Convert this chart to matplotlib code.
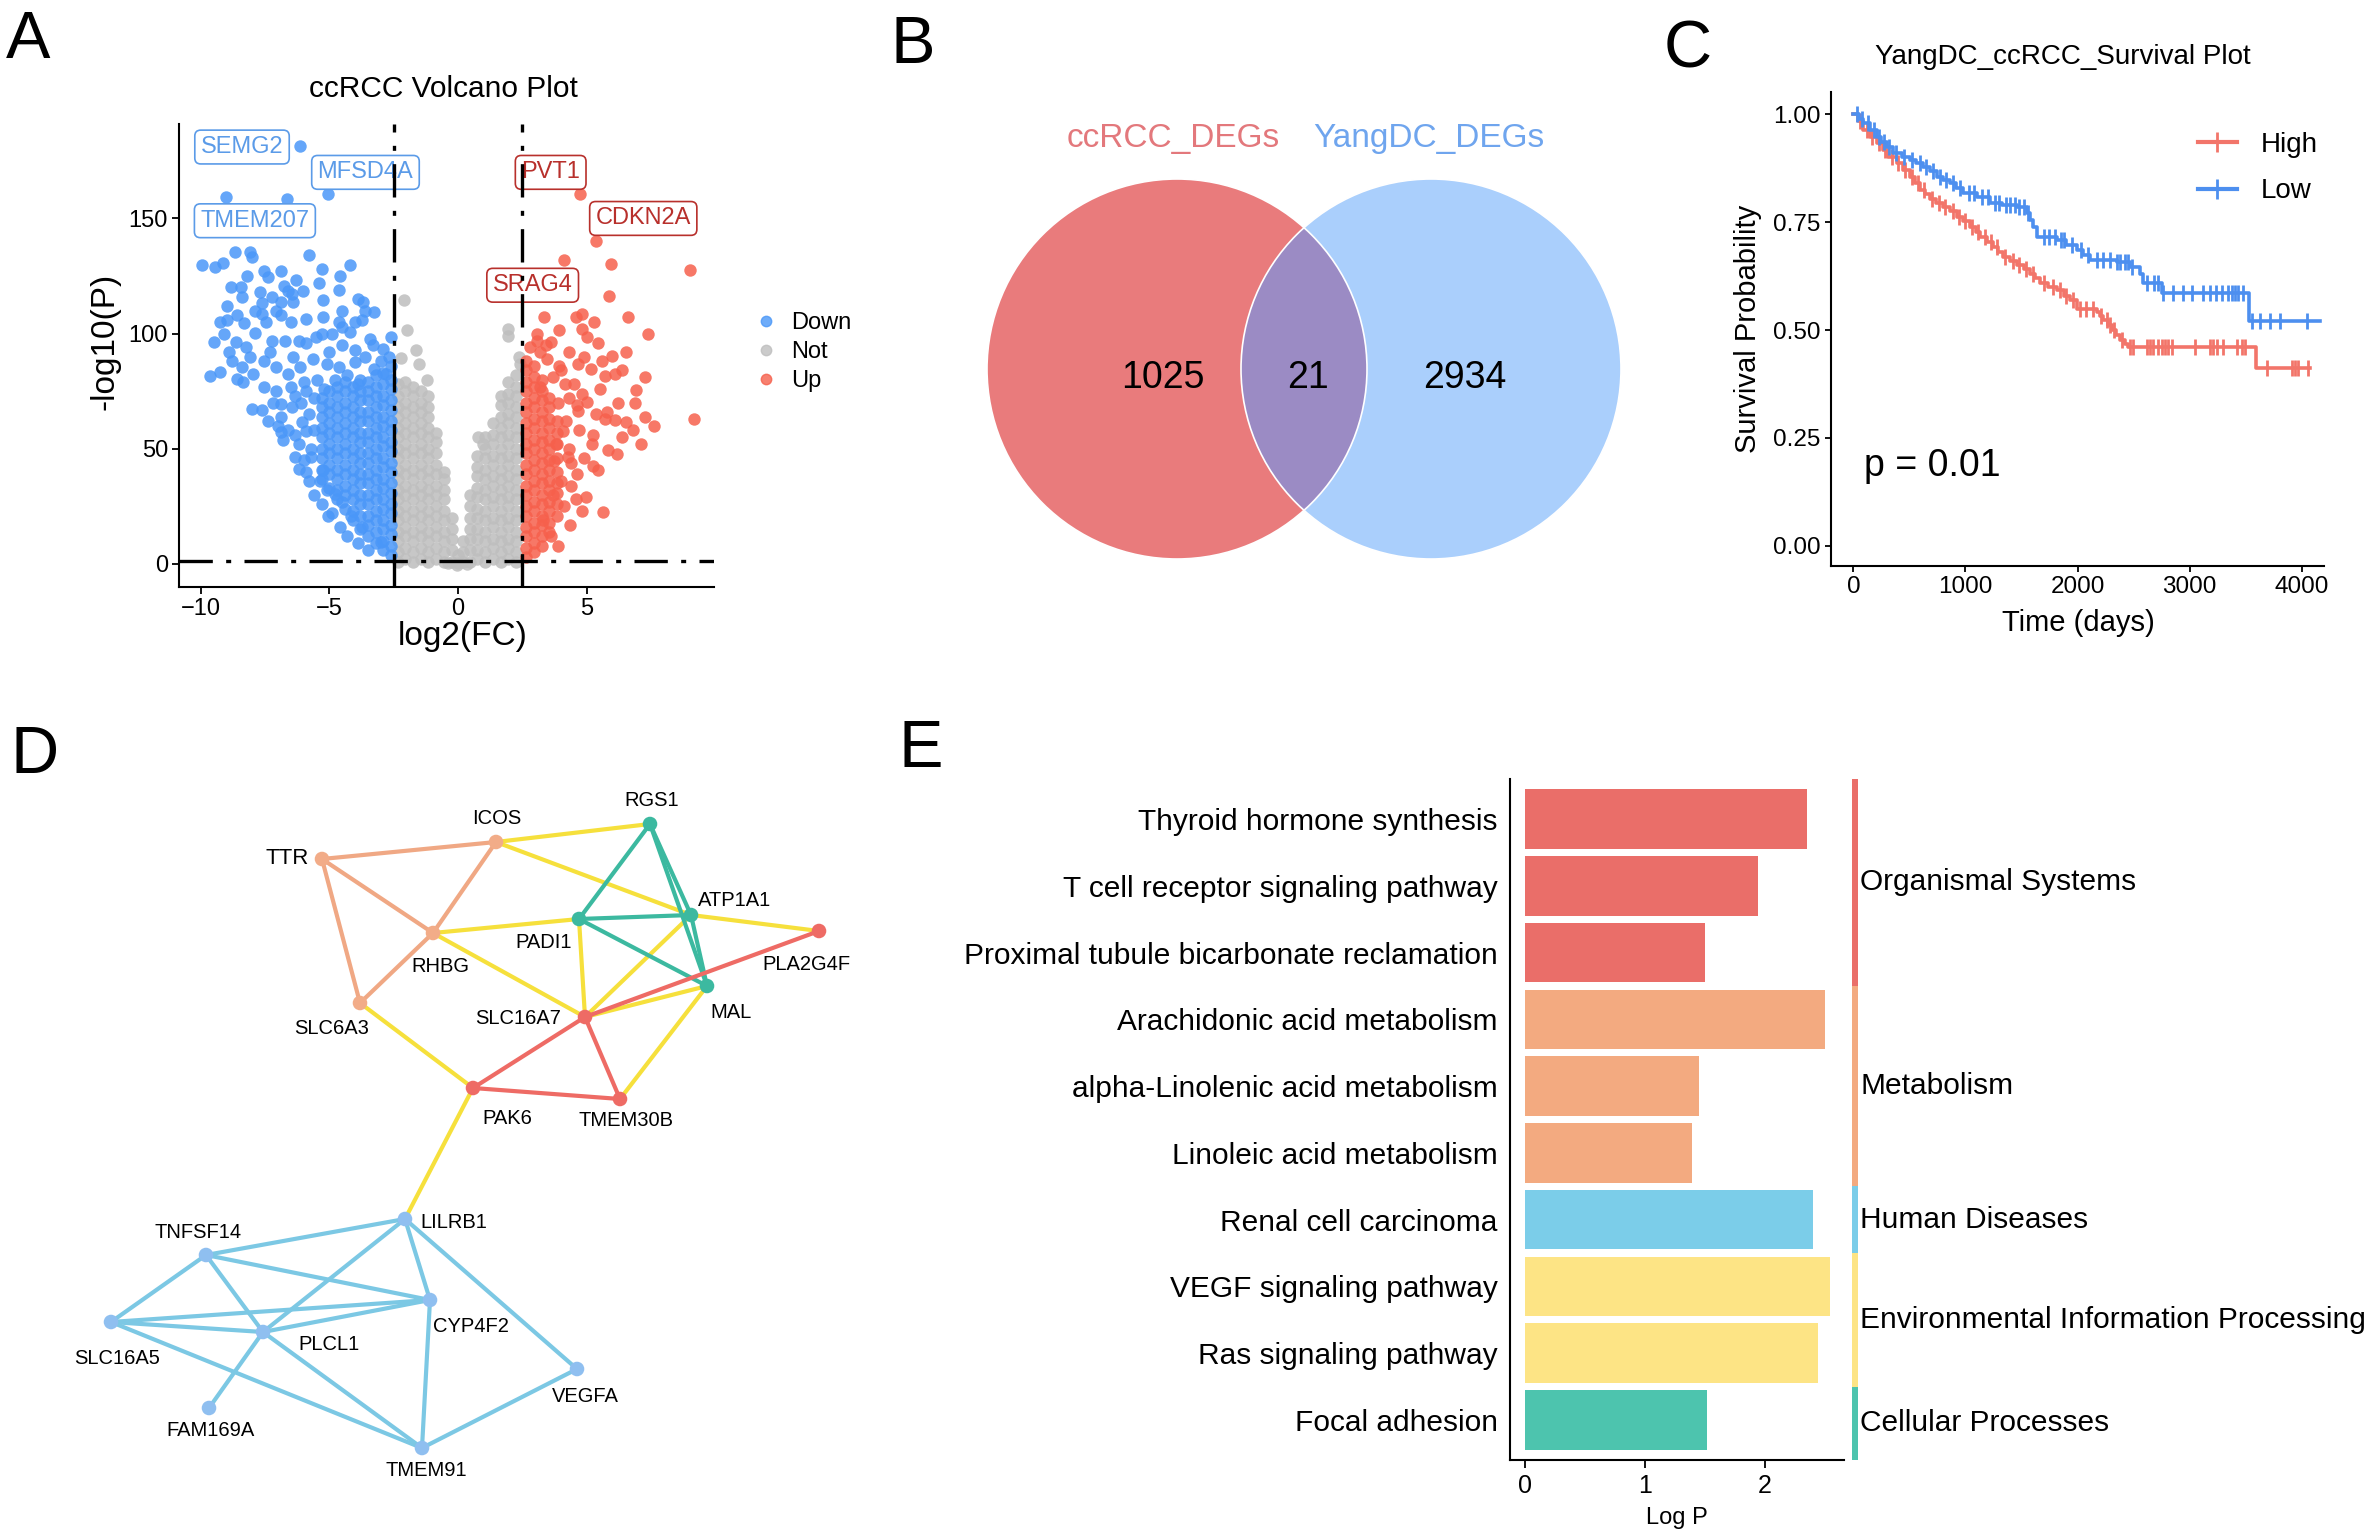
import numpy as np
import matplotlib
matplotlib.use("Agg")
import matplotlib.pyplot as plt
from matplotlib.patches import Circle
from matplotlib.lines import Line2D

plt.rcParams['font.family'] = ['Liberation Sans', 'DejaVu Sans']

# ---------------- A: volcano data ----------------
blue_pts = [(-6.13, 181.4), (-9.01, 159.5), (-6.67, 158.4), (-5.04, 160.7), (-8.68, 135.6), (-8.10, 135.3),
            (-8.00, 133.2), (-5.79, 134.2), (-9.96, 129.8), (-9.46, 128.8), (-9.12, 130.6), (-4.21, 129.8),
            (-7.56, 127.4), (-7.38, 124.5), (-6.29, 123.3), (-8.81, 120.2), (-8.44, 120.4), (-8.40, 116.1),
            (-6.78, 120.6), (-6.60, 118.7), (-6.44, 117.3), (-6.03, 118.3), (-5.42, 121.9), (-4.63, 119.0),
            (-8.98, 112.2), (-7.62, 113.2), (-7.24, 115.8), (-6.88, 113.6), (-6.40, 113.6), (-5.24, 114.7),
            (-3.68, 113.6), (-3.27, 109.3), (-3.61, 110.0), (-9.26, 104.9), (-8.98, 106.1), (-8.33, 104.5),
            (-7.62, 108.6), (-7.45, 104.9), (-7.08, 110.0), (-6.50, 104.9), (-5.92, 106.4), (-5.24, 107.1),
            (-4.63, 104.9), (-4.02, 104.9), (-3.75, 106.0), (-9.50, 96.3), (-8.64, 96.3), (-8.24, 94.1),
            (-7.90, 100.2), (-7.22, 97.0), (-6.74, 97.0), (-6.20, 97.0), (-5.52, 98.4), (-4.90, 99.9),
            (-4.22, 100.6), (-3.41, 97.7), (-2.93, 93.4), (-2.59, 98.4), (-9.66, 81.8), (-9.26, 83.3),
            (-8.78, 88.3), (-8.40, 85.4), (-7.96, 82.5), (-7.56, 88.3), (-7.08, 85.4), (-6.60, 82.5),
            (-6.13, 85.4), (-5.65, 89.0), (-5.11, 86.9), (-4.63, 85.4), (-4.02, 87.6), (-3.27, 84.7),
            (-2.80, 82.5), (-8.58, 80.4), (-8.37, 78.9), (-7.56, 76.7), (-7.08, 75.3), (-6.33, 73.1),
            (-5.92, 75.3), (-8.03, 67.3), (-7.62, 66.9), (-6.88, 69.5), (-6.47, 68.1), (-6.06, 61.5),
            (-5.92, 57.9), (-6.88, 57.2), (-6.33, 55.8), (-6.81, 53.6), (-6.33, 46.4), (-6.20, 41.3),
            (-5.72, 46.4), (-5.24, 40.6), (-5.79, 36.2), (-5.38, 36.2), (-5.11, 31.9), (-4.77, 30.4),
            (-4.50, 26.8), (-5.04, 21.0), (-4.16, 21.0), (-3.75, 16.0), (-3.00, 9.5),
            (-5.0, 92), (-4.5, 95), (-4.0, 93), (-3.6, 90), (-3.3, 95), (-3.0, 88), (-2.7, 90), (-4.8, 80),
            (-4.3, 82), (-3.9, 78), (-5.5, 80), (-5.2, 76), (-6.0, 79), (-5.6, 72), (-6.5, 77), (-7.2, 70),
            (-6.9, 64), (-5.8, 65), (-6.1, 70), (-5.7, 50), (-6.0, 45), (-5.6, 58), (-7.4, 62), (-7.0, 60),
            (-6.6, 58), (-6.2, 52), (-5.9, 40), (-5.6, 30), (-5.3, 26), (-4.9, 22), (-4.6, 16), (-4.3, 12),
            (-3.9, 9), (-3.5, 6), (-4.5, 103), (-5.3, 100), (-6.9, 108), (-7.9, 110), (-8.6, 108), (-9.1, 100),
            (-8.1, 90), (-8.9, 92), (-7.3, 92), (-6.4, 90), (-5.9, 96), (-4.5, 110), (-3.9, 115), (-4.6, 125),
            (-5.3, 128), (-6.9, 127), (-7.7, 118), (-8.2, 125)]

blue_col_x = [-5.3, -5.0, -4.7, -4.4, -4.1, -3.8, -3.5, -3.2, -2.9, -2.6]
blue_col_y = [[37, 41, 46, 50, 55, 59, 64, 68, 72],
              [33, 39, 43, 48, 52, 57, 61, 66, 70, 75],
              [28, 32, 37, 41, 46, 50, 55, 59, 64, 68, 73, 77],
              [24, 30, 34, 39, 43, 48, 52, 57, 61, 66, 70, 75, 79],
              [19, 23, 28, 32, 37, 41, 46, 50, 55, 59, 64, 68, 73, 77],
              [15, 21, 26, 30, 35, 39, 44, 48, 53, 57, 62, 66, 71, 75, 80],
              [12, 17, 21, 26, 30, 35, 39, 44, 48, 53, 57, 62, 66, 71, 75, 79],
              [9, 14, 19, 23, 28, 32, 37, 41, 46, 50, 55, 59, 64, 68, 73, 77, 82],
              [6, 10, 15, 19, 24, 28, 33, 37, 42, 46, 51, 55, 60, 64, 69, 73, 78, 83],
              [4, 8, 13, 17, 22, 26, 31, 35, 40, 44, 49, 53, 58, 62, 67, 71, 76, 80, 86]]

grey_pts = [(-2.12, 114.4), (-1.98, 101.6), (-1.64, 92.7), (-2.2, 89.5), (-1.5, 86.9), (-1.2, 80),
            (1.93, 102), (1.96, 99), (2.37, 89.8), (0.78, 55), (0.97, 52), (2.4, 87), (-0.05, -0.5),
            (-0.4, 0.3), (0.35, 0.2)]
grey_col_x = [-2.35, -2.05, -1.75, -1.45, -1.15, -0.85, -0.55, -0.25, 0.0, 0.2, 0.45, 0.75, 1.05, 1.35,
              1.65, 1.95, 2.25]
grey_col_y = [[1, 5, 10, 14, 19, 23, 28, 32, 37, 41, 46, 50, 55, 59, 64, 68, 73, 78],
              [2, 7, 12, 16, 21, 25, 30, 34, 39, 43, 48, 52, 57, 61, 66, 70, 75, 79],
              [1, 5, 10, 14, 19, 23, 28, 32, 37, 41, 46, 50, 55, 59, 64, 68, 73, 77],
              [2, 7, 12, 16, 21, 25, 30, 34, 39, 43, 48, 52, 57, 61, 66, 70, 75],
              [1, 5, 10, 14, 19, 23, 28, 32, 37, 41, 46, 50, 55, 59, 64, 68, 73],
              [2, 7, 12, 16, 21, 25, 30, 34, 39, 43, 48, 53, 57],
              [1, 5, 10, 14, 19, 23, 28, 32, 37, 40],
              [1, 6, 11, 15, 20],
              [0.5, 4],
              [1, 5, 10],
              [1, 6, 11, 15, 20, 25, 30],
              [2, 6, 11, 15, 20, 24, 29, 33, 38, 42, 47],
              [1, 5, 10, 14, 19, 23, 28, 32, 37, 41, 46, 50, 55],
              [2, 7, 11, 16, 20, 25, 29, 34, 38, 43, 47, 52, 56, 61],
              [1, 5, 10, 14, 19, 23, 28, 32, 37, 41, 46, 50, 55, 59, 64, 69, 73],
              [2, 7, 11, 16, 20, 25, 29, 34, 38, 43, 47, 52, 56, 61, 65, 70, 74, 79],
              [1, 5, 10, 14, 19, 23, 28, 32, 37, 41, 46, 50, 55, 59, 64, 68, 73, 77, 82]]

red_pts = [(4.75, 160.4), (5.36, 140.1), (4.10, 132.0), (5.95, 130.3), (9.01, 127.7), (5.88, 116.5),
           (3.36, 107.1), (4.59, 107.4), (4.82, 108.6), (5.27, 105.0), (6.59, 107.1), (7.40, 99.9),
           (3.05, 99.9), (3.94, 101.6), (4.82, 102.1), (3.08, 97.0), (3.60, 96.3), (5.02, 98.4),
           (5.43, 95.8), (6.52, 91.9), (5.98, 90.5), (2.78, 94.1), (3.46, 89.0), (3.94, 86.1),
           (4.68, 86.9), (5.16, 84.7), (5.70, 81.8), (6.11, 82.5), (6.38, 84.0), (7.27, 81.1),
           (3.19, 76.7), (4.14, 78.2), (4.82, 73.8), (5.50, 76.0), (6.93, 75.6), (6.86, 69.8),
           (4.62, 68.8), (5.02, 70.2), (5.36, 65.2), (5.70, 63.0), (6.11, 62.3), (6.52, 61.8),
           (7.27, 63.7), (7.61, 60.1), (9.17, 63.0), (4.68, 66.6), (4.07, 57.9), (5.23, 55.8),
           (6.38, 55.0), (7.13, 51.9), (5.84, 49.3), (6.18, 47.8), (3.73, 44.9), (4.28, 46.4),
           (4.62, 39.1), (5.23, 42.7), (5.43, 40.6), (4.00, 36.2), (4.96, 29.0), (4.82, 23.2),
           (5.64, 22.5), (4.34, 16.7), (3.32, 18.9),
           (3.9, 70), (4.2, 62), (3.8, 52), (4.3, 50), (3.7, 30), (4.1, 25), (3.6, 12), (3.9, 8),
           (4.4, 44), (4.0, 84), (4.3, 92), (3.7, 81), (4.5, 78), (4.9, 90), (5.6, 88), (4.3, 72),
           (4.7, 58), (5.2, 52), (4.9, 46), (4.4, 34), (4.6, 28), (5.8, 66), (6.2, 70), (6.8, 58),
           (3.4, 95), (3.2, 92)]
red_col_x = [2.65, 2.95, 3.25, 3.55, 3.85]
red_col_y = [[3, 7, 12, 16, 21, 25, 30, 34, 39, 43, 48, 52, 57, 61, 66, 70, 75, 79, 84, 88],
             [5, 9, 14, 18, 23, 27, 32, 36, 41, 45, 50, 54, 59, 63, 68, 72, 77, 81, 86],
             [8, 12, 17, 21, 26, 30, 35, 39, 44, 48, 53, 57, 62, 66, 71, 75, 80],
             [14, 18, 23, 27, 32, 36, 41, 45, 50, 54, 59, 63, 68, 72],
             [21, 26, 31, 35, 40, 46, 52, 57, 62]]

gene_labels = ['SEMG2', 'MFSD4A', 'TMEM207', 'PVT1', 'CDKN2A', 'SRAG4']
gene_x = [-8.4, -3.6, -7.9, 3.6, 7.2, 2.9]
gene_y = [181, 170, 149, 170, 150, 121]
gene_dir = ['Down', 'Down', 'Down', 'Up', 'Up', 'Up']

# ---------------- B: venn ----------------
venn_counts = [1025, 21, 2934]
venn_sets = ['ccRCC_DEGs', 'YangDC_DEGs']

# ---------------- C: survival ----------------
high_t = [0, 40, 88, 150, 207, 260, 311, 385, 440, 504, 550, 594, 640, 683, 740, 802, 860, 921, 980, 1040,
          1090, 1129, 1190, 1248, 1290, 1338, 1400, 1457, 1520, 1576, 1620, 1665, 1740, 1814, 1880, 1933,
          1992, 2171, 2200, 2230, 2270, 2305, 2340, 2379, 2420, 2454, 3590, 4075]
high_s = [1.0, 0.985, 0.964, 0.948, 0.933, 0.918, 0.902, 0.887, 0.872, 0.856, 0.840, 0.825, 0.815, 0.805,
          0.795, 0.786, 0.775, 0.763, 0.752, 0.740, 0.728, 0.716, 0.705, 0.693, 0.682, 0.670, 0.660, 0.651,
          0.641, 0.631, 0.620, 0.608, 0.600, 0.593, 0.580, 0.570, 0.550, 0.542, 0.532, 0.523, 0.511, 0.500,
          0.488, 0.477, 0.468, 0.461, 0.411, 0.411]
high_cens = [60, 120, 170, 230, 280, 340, 400, 460, 520, 580, 630, 700, 760, 820, 890, 940, 1000, 1060,
             1110, 1170, 1230, 1280, 1350, 1420, 1480, 1540, 1600, 1700, 1780, 1840, 1900, 1960, 2020, 2080,
             2140, 2210, 2260, 2290, 2330, 2400, 2470, 2498, 2617, 2647, 2677, 2721, 2751, 2781, 2811, 2840,
             3049, 3183, 3212, 3242, 3302, 3421, 3465, 3495, 3689, 3912, 3942, 3971, 4061]
low_t = [0, 50, 88, 150, 207, 250, 296, 355, 430, 504, 560, 623, 680, 742, 800, 861, 920, 980, 1099, 1218,
         1330, 1457, 1546, 1576, 1600, 1635, 1814, 1900, 1992, 2050, 2111, 2349, 2468, 2558, 2587, 2751,
         3530, 4165]
low_s = [1.0, 0.990, 0.979, 0.963, 0.948, 0.937, 0.925, 0.910, 0.902, 0.894, 0.887, 0.879, 0.868, 0.856,
         0.848, 0.840, 0.829, 0.817, 0.809, 0.794, 0.790, 0.786, 0.771, 0.755, 0.740, 0.716, 0.709, 0.698,
         0.686, 0.674, 0.662, 0.658, 0.647, 0.631, 0.608, 0.585, 0.522, 0.522]
low_cens = [30, 80, 130, 180, 230, 270, 320, 380, 450, 520, 590, 650, 710, 770, 830, 890, 950, 1030, 1080,
            1150, 1200, 1260, 1300, 1360, 1400, 1440, 1480, 1520, 1560, 1700, 1750, 1800, 1850, 1880, 1950,
            2030, 2090, 2170, 2230, 2290, 2349, 2380, 2420, 2450, 2483, 2620, 2680, 2721, 2766, 2855, 2945,
            3019, 3123, 3183, 3240, 3290, 3340, 3380, 3410, 3436, 3480, 3555, 3629, 3718, 3808, 4046]

# ---------------- D: network ----------------
node_names = ['RGS1', 'ICOS', 'TTR', 'ATP1A1', 'PADI1', 'PLA2G4F', 'RHBG', 'MAL', 'SLC6A3', 'SLC16A7',
              'PAK6', 'TMEM30B', 'LILRB1', 'TNFSF14', 'CYP4F2', 'SLC16A5', 'PLCL1', 'VEGFA', 'FAM169A',
              'TMEM91']
node_x = [650, 496, 322, 691, 579, 819, 433, 707, 360, 585, 473, 620, 405, 206, 430, 111, 263, 577, 209, 422]
node_y = [824, 842, 859, 915, 919, 931, 933, 986, 1003, 1017, 1088, 1099, 1219, 1255, 1300, 1322, 1332,
          1369, 1408, 1448]
node_group = ['teal', 'orange', 'orange', 'teal', 'teal', 'red', 'orange', 'teal', 'orange', 'red',
              'red', 'red', 'blue', 'blue', 'blue', 'blue', 'blue', 'blue', 'blue', 'blue']
label_x = [652, 497, 287, 735, 544, 806, 440, 731, 332, 518, 507, 626, 454, 198, 471, 117, 329, 585, 211, 426]
label_y = [801, 819, 859, 900, 943, 964, 967, 1013, 1028, 1018, 1118, 1121, 1222, 1233, 1326, 1358, 1345,
           1397, 1431, 1470]
edges = [('TTR', 'ICOS', 'orange'), ('TTR', 'RHBG', 'orange'), ('TTR', 'SLC6A3', 'orange'),
         ('ICOS', 'RHBG', 'orange'), ('RHBG', 'SLC6A3', 'orange'),
         ('ICOS', 'RGS1', 'yellow'), ('ICOS', 'ATP1A1', 'yellow'), ('RHBG', 'PADI1', 'yellow'),
         ('RHBG', 'SLC16A7', 'yellow'), ('ATP1A1', 'PLA2G4F', 'yellow'), ('SLC16A7', 'ATP1A1', 'yellow'),
         ('SLC16A7', 'MAL', 'yellow'), ('PADI1', 'SLC16A7', 'yellow'), ('SLC6A3', 'PAK6', 'yellow'),
         ('MAL', 'TMEM30B', 'yellow'), ('PAK6', 'LILRB1', 'yellow'),
         ('RGS1', 'PADI1', 'teal'), ('RGS1', 'ATP1A1', 'teal'), ('RGS1', 'MAL', 'teal'),
         ('PADI1', 'ATP1A1', 'teal'), ('PADI1', 'MAL', 'teal'), ('ATP1A1', 'MAL', 'teal'),
         ('SLC16A7', 'PLA2G4F', 'red'), ('SLC16A7', 'PAK6', 'red'), ('SLC16A7', 'TMEM30B', 'red'),
         ('PAK6', 'TMEM30B', 'red'),
         ('LILRB1', 'TNFSF14', 'blue'), ('LILRB1', 'PLCL1', 'blue'), ('LILRB1', 'CYP4F2', 'blue'),
         ('LILRB1', 'VEGFA', 'blue'), ('TNFSF14', 'CYP4F2', 'blue'), ('TNFSF14', 'SLC16A5', 'blue'),
         ('TNFSF14', 'PLCL1', 'blue'), ('SLC16A5', 'CYP4F2', 'blue'), ('SLC16A5', 'PLCL1', 'blue'),
         ('SLC16A5', 'TMEM91', 'blue'), ('PLCL1', 'CYP4F2', 'blue'), ('PLCL1', 'FAM169A', 'blue'),
         ('PLCL1', 'TMEM91', 'blue'), ('CYP4F2', 'TMEM91', 'blue'), ('VEGFA', 'TMEM91', 'blue')]

# ---------------- E: KEGG ----------------
pathways = ['Thyroid hormone synthesis', 'T cell receptor signaling pathway',
            'Proximal tubule bicarbonate reclamation', 'Arachidonic acid metabolism',
            'alpha-Linolenic acid metabolism', 'Linoleic acid metabolism', 'Renal cell carcinoma',
            'VEGF signaling pathway', 'Ras signaling pathway', 'Focal adhesion']
logp = [2.35, 1.94, 1.50, 2.50, 1.45, 1.39, 2.40, 2.54, 2.44, 1.52]
pathway_cat = ['Organismal Systems'] * 3 + ['Metabolism'] * 3 + ['Human Diseases'] + \
              ['Environmental Information Processing'] * 2 + ['Cellular Processes']
categories = ['Organismal Systems', 'Metabolism', 'Human Diseases', 'Environmental Information Processing',
              'Cellular Processes']
cat_colors = ['#EA6E69', '#F3AA80', '#7BCDE9', '#FDE485', '#4DC4AE']

W, H = 2368, 1537
fig = plt.figure(figsize=(W / 100, H / 100), dpi=100)


def fx(px):
    return px / W


def fy(py):
    return 1 - py / H


def flatten(cols_x, cols_y):
    xs, ys = [], []
    for x, col in zip(cols_x, cols_y):
        xs += [x] * len(col)
        ys += col
    return xs, ys


# panel letters
for letter, px, py in [('A', 6, 58), ('B', 890, 63), ('C', 1664, 68), ('D', 10, 773), ('E', 899, 767)]:
    fig.text(fx(px), fy(py), letter, fontsize=48, ha='left', va='baseline')

# ================= A =================
axA = fig.add_axes([fx(179), fy(587), fx(714) - fx(179), (587 - 124) / H])
c_down, c_not, c_up = '#4A97F8', '#BEBEBE', '#F6604C'
gx, gy = flatten(grey_col_x, grey_col_y)
gx += [p[0] for p in grey_pts]
gy += [p[1] for p in grey_pts]
bx, by = flatten(blue_col_x, blue_col_y)
bx += [p[0] for p in blue_pts]
by += [p[1] for p in blue_pts]
rx, ry = flatten(red_col_x, red_col_y)
rx += [p[0] for p in red_pts]
ry += [p[1] for p in red_pts]
axA.scatter(gx, gy, s=80, color=c_not, alpha=0.85, lw=0, zorder=2)
axA.scatter(bx, by, s=80, color=c_down, alpha=0.85, lw=0, zorder=2)
axA.scatter(rx, ry, s=80, color=c_up, alpha=0.85, lw=0, zorder=2)

for lab, x, y, d in zip(gene_labels, gene_x, gene_y, gene_dir):
    col = '#5B9BE8' if d == 'Down' else '#B8302C'
    axA.text(x, y, lab, fontsize=17, color=col, ha='center', va='center', zorder=3,
             bbox=dict(boxstyle='round,pad=0.25,rounding_size=0.25', fc='white', ec=col, lw=1.2))

for xv in (-2.5, 2.5):
    axA.axvline(xv, color='black', lw=2.4, dashes=(10, 4, 1.5, 4), zorder=4)
axA.axhline(1.3, color='black', lw=2.4, dashes=(10, 4, 1.5, 4), zorder=4)

axA.set_xlim(-10.85, 9.95)
axA.set_ylim(-10, 191)
axA.set_xticks([-10, -5, 0, 5])
axA.set_yticks([0, 50, 100, 150])
for s in ('top', 'right'):
    axA.spines[s].set_visible(False)
for s in ('left', 'bottom'):
    axA.spines[s].set_linewidth(1.5)
axA.tick_params(labelsize=17, length=5, width=1.3, pad=3)
fig.text(fx(443), fy(97), 'ccRCC Volcano Plot', fontsize=21.5, ha='center', va='baseline')
fig.text(fx(463), fy(645), 'log2(FC)', fontsize=24, ha='center', va='baseline')
fig.text(fx(114), fy(341), '-log10(P)', fontsize=24, ha='center', va='baseline', rotation=90,
         rotation_mode='anchor')
legA = [Line2D([], [], ls='', marker='o', ms=7.5, color=c, alpha=0.8) for c in (c_down, c_not, c_up)]
axA.legend(legA, ['Down', 'Not', 'Up'], loc='center left', bbox_to_anchor=(fx(745), fy(352)),
           bbox_transform=fig.transFigure, frameon=False, fontsize=17, borderpad=0, handlelength=0.8,
           handletextpad=0.66, labelspacing=0.29)

# ================= B =================
axB = fig.add_axes([fx(900), fy(600), fx(1660) - fx(900), (600 - 80) / H])
axB.set_xlim(900, 1660)
axB.set_ylim(600, 80)
axB.axis('off')
red_c = Circle((1177, 369), 190, fc='#E97B7C', ec='none')
blue_c = Circle((1431, 369), 190, fc='#AACFFC', ec='none')
axB.add_patch(red_c)
axB.add_patch(blue_c)
lens = Circle((1431, 369), 190, fc='#9B8BC4', ec='none')
axB.add_patch(lens)
lens.set_clip_path(red_c)
axB.add_patch(Circle((1177, 369), 190, fc='none', ec='white', lw=1.2))
axB.add_patch(Circle((1431, 369), 190, fc='none', ec='white', lw=1.2))
for val, x in zip(venn_counts, (1163, 1308, 1465)):
    axB.text(x, 388, str(val), fontsize=27, ha='center', va='baseline')
axB.text(1173, 147, venn_sets[0], fontsize=24, color='#E3787C', ha='center', va='baseline')
axB.text(1429, 147, venn_sets[1], fontsize=24, color='#6FA5EE', ha='center', va='baseline')

# ================= C =================
axC = fig.add_axes([fx(1831), fy(566), fx(2324) - fx(1831), (566 - 92) / H])
c_high, c_low = '#F2756A', '#4D8FEF'
for t, s, cens, col in ((high_t, high_s, high_cens, c_high), (low_t, low_s, low_cens, c_low)):
    axC.step(t, s, where='post', color=col, lw=2.6)
    idx = np.searchsorted(t, cens, side='right') - 1
    axC.plot(cens, np.array(s)[idx], ls='', marker='|', ms=11, mew=2, color=col)
axC.set_xlim(-200, 4200)
axC.set_ylim(-0.047, 1.052)
axC.set_xticks([0, 1000, 2000, 3000, 4000])
axC.set_yticks([0, 0.25, 0.5, 0.75, 1.0])
axC.set_yticklabels(['0.00', '0.25', '0.50', '0.75', '1.00'])
for s in ('top', 'right'):
    axC.spines[s].set_visible(False)
for s in ('left', 'bottom'):
    axC.spines[s].set_linewidth(1.5)
axC.tick_params(labelsize=17.5, length=4.5, width=1.3, pad=3)
axC.text(0.067, 0.19, 'p = 0.01', transform=axC.transAxes, fontsize=27, ha='left', va='baseline')
fig.text(fx(2063), fy(64), 'YangDC_ccRCC_Survival Plot', fontsize=20, ha='center', va='baseline')
fig.text(fx(2078), fy(631), 'Time (days)', fontsize=21, ha='center', va='baseline')
fig.text(fx(1756), fy(329), 'Survival Probability', fontsize=21, ha='center', va='baseline', rotation=90,
         rotation_mode='anchor')
legC = [Line2D([], [], color=c, lw=3, marker='+', ms=14, mew=2) for c in (c_high, c_low)]
axC.legend(legC, ['High', 'Low'], loc='center left', bbox_to_anchor=(fx(2184), fy(168)),
           bbox_transform=fig.transFigure, frameon=False, fontsize=20, borderpad=0, handlelength=1.4,
           handletextpad=0.85, labelspacing=0.75)

# ================= D =================
axD = fig.add_axes([0, 0, fx(900), (1537 - 760) / H])
axD.set_xlim(0, 900)
axD.set_ylim(1537, 760)
axD.axis('off')
edge_col = {'orange': '#F0A884', 'yellow': '#F6E03C', 'teal': '#3CB9A0', 'red': '#EE6B65', 'blue': '#7CC8E4'}
node_col = {'orange': '#F2AC88', 'teal': '#3CB9A0', 'red': '#EE6B65', 'blue': '#8FBFF0'}
pos = {n: (x, y) for n, x, y in zip(node_names, node_x, node_y)}
for a, b, g in edges:
    axD.plot([pos[a][0], pos[b][0]], [pos[a][1], pos[b][1]], color=edge_col[g], lw=3, zorder=1,
             solid_capstyle='round')
axD.scatter(node_x, node_y, s=110, c=[node_col[g] for g in node_group], zorder=2, lw=0)
for n, x, y in zip(node_names, label_x, label_y):
    axD.text(x, y, n, fontsize=16 if n == 'TTR' else 14.5, ha='center', va='center')

# ================= E =================
axE = fig.add_axes([fx(1510), fy(1460), fx(1844) - fx(1510), (1460 - 779) / H])
ypos = np.arange(len(pathways))
bar_cols = [cat_colors[categories.index(c)] for c in pathway_cat]
axE.barh(ypos, logp, height=0.89, color=bar_cols)
axE.set_ylim(len(pathways) - 0.4, -0.6)
axE.set_xlim(-0.125, 2.66)
axE.set_yticks(ypos)
axE.set_yticklabels(pathways, fontsize=21.5)
axE.set_xticks([0, 1, 2])
axE.tick_params(axis='y', length=0, pad=9)
axE.tick_params(axis='x', labelsize=18, length=6, width=1.3, pad=4)
for s in ('top', 'right'):
    axE.spines[s].set_visible(False)
for s in ('left', 'bottom'):
    axE.spines[s].set_linewidth(1.5)
fig.text(fx(1677), fy(1524), 'Log P', fontsize=17, ha='center', va='baseline')

axS = fig.add_axes([fx(1852), fy(1460), 6 / W, (1460 - 779) / H])
axS.set_ylim(len(pathways) - 0.4, -0.6)
axS.set_xlim(0, 1)
axS.axis('off')
for k, cat in enumerate(categories):
    rows = [i for i, c in enumerate(pathway_cat) if c == cat]
    top = -0.6 if k == 0 else min(rows) - 0.5
    bot = len(pathways) - 0.4 if k == len(categories) - 1 else max(rows) + 0.5
    axS.bar(0.5, bot - top, bottom=top, width=1, color=cat_colors[k])
    axS.text(1.4, (top + bot) / 2, cat, fontsize=21.5, ha='left', va='center', clip_on=False)

fig.savefig('out.png', dpi=100)
